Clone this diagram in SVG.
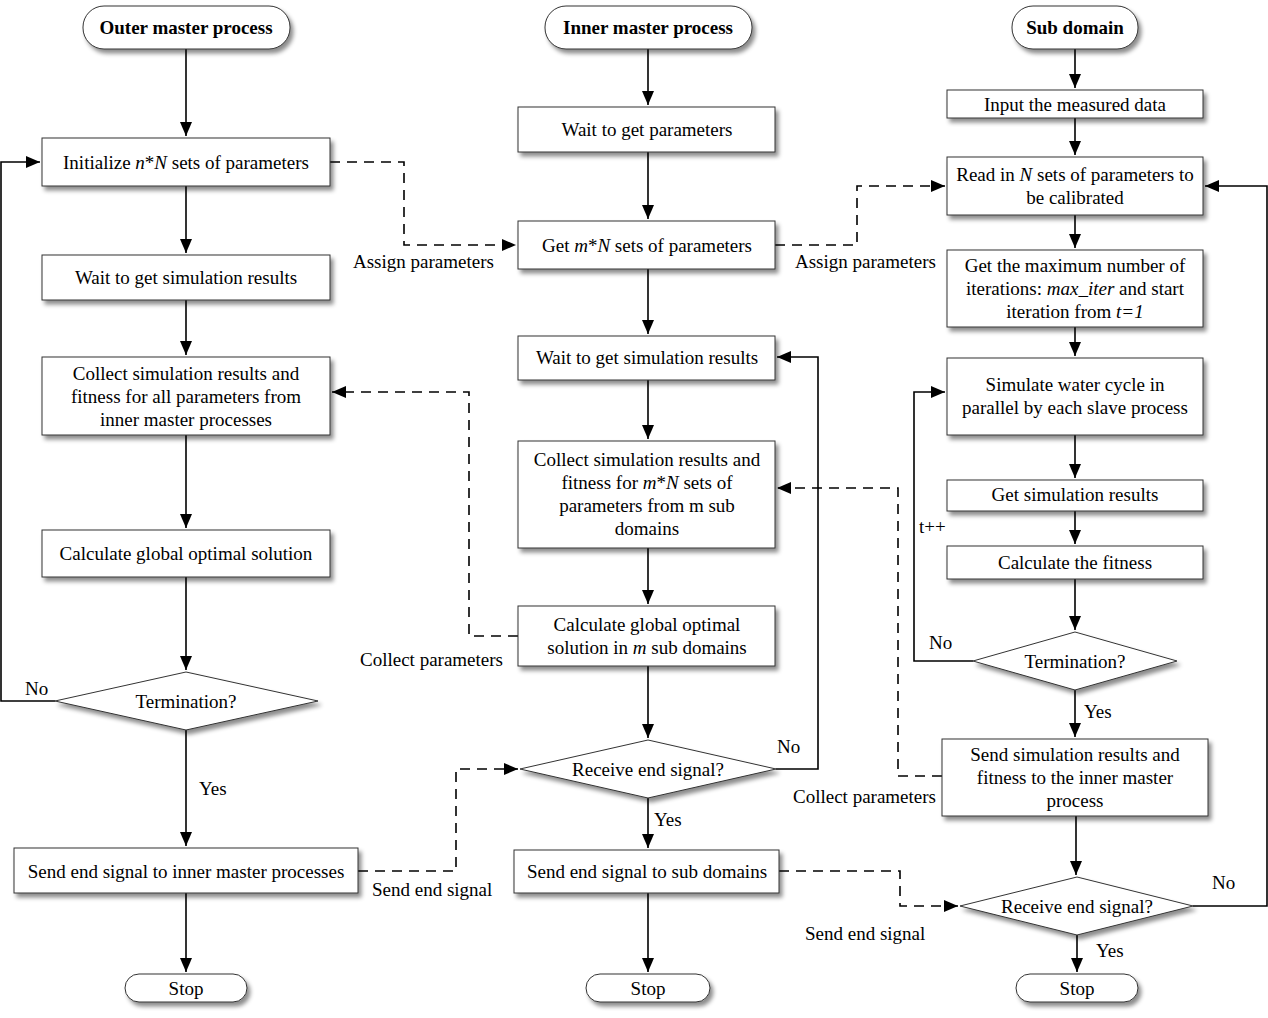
<svg xmlns="http://www.w3.org/2000/svg" width="1268" height="1018" viewBox="0 0 1268 1018">
<defs>
<filter id="sh" x="-10%" y="-20%" width="125%" height="150%">
<feDropShadow dx="3" dy="4" stdDeviation="2.2" flood-color="#000" flood-opacity="0.45"/>
</filter>
<marker id="ah" viewBox="0 0 14 12" refX="14" refY="6" markerWidth="14" markerHeight="12" markerUnits="userSpaceOnUse" orient="auto">
<path d="M0,0 L14,6 L0,12 Z" fill="#000"/>
</marker>
<style>
.n{fill:#fff;stroke:#333;stroke-width:1;filter:url(#sh)}
.t{font-family:"Liberation Serif","Times New Roman",serif;font-size:19px;fill:#000;text-anchor:middle}
.b{font-weight:bold}
.l{font-family:"Liberation Serif","Times New Roman",serif;font-size:19px;fill:#000}
.i{font-style:italic}
.c{fill:none;stroke:#000;stroke-width:1.6}
.d{fill:none;stroke:#000;stroke-width:1.6;stroke-dasharray:10 7}
</style>
</defs>
<rect width="1268" height="1018" fill="#fff"/>

<g id="connectors">
<path class="c" d="M186,49 V136" marker-end="url(#ah)"/>
<path class="c" d="M186,186 V253" marker-end="url(#ah)"/>
<path class="c" d="M186,300 V355" marker-end="url(#ah)"/>
<path class="c" d="M186,435 V528" marker-end="url(#ah)"/>
<path class="c" d="M186,577 V670" marker-end="url(#ah)"/>
<path class="c" d="M186,730 V846" marker-end="url(#ah)"/>
<path class="c" d="M186,893 V972" marker-end="url(#ah)"/>
<path class="c" d="M55,701 H1 V162 H40" marker-end="url(#ah)"/>
<path class="c" d="M648,49 V105" marker-end="url(#ah)"/>
<path class="c" d="M648,152 V219" marker-end="url(#ah)"/>
<path class="c" d="M648,269 V334" marker-end="url(#ah)"/>
<path class="c" d="M648,380 V439" marker-end="url(#ah)"/>
<path class="c" d="M648,548 V604" marker-end="url(#ah)"/>
<path class="c" d="M648,666 V738" marker-end="url(#ah)"/>
<path class="c" d="M648,798 V848" marker-end="url(#ah)"/>
<path class="c" d="M648,893 V972" marker-end="url(#ah)"/>
<path class="c" d="M776,769 H818 V357 H777" marker-end="url(#ah)"/>
<path class="c" d="M1075,49 V88" marker-end="url(#ah)"/>
<path class="c" d="M1075,118 V155" marker-end="url(#ah)"/>
<path class="c" d="M1075,215 V248" marker-end="url(#ah)"/>
<path class="c" d="M1075,327 V356" marker-end="url(#ah)"/>
<path class="c" d="M1075,435 V478" marker-end="url(#ah)"/>
<path class="c" d="M1075,511 V544" marker-end="url(#ah)"/>
<path class="c" d="M1075,579 V630" marker-end="url(#ah)"/>
<path class="c" d="M1075,690 V737" marker-end="url(#ah)"/>
<path class="c" d="M1076,816 V875" marker-end="url(#ah)"/>
<path class="c" d="M1077,935 V972" marker-end="url(#ah)"/>
<path class="c" d="M973,661 H914 V392 H945" marker-end="url(#ah)"/>
<path class="c" d="M1193,906 H1267 V186 H1205" marker-end="url(#ah)"/>
<path class="d" d="M330,162 H404 V245 H516" marker-end="url(#ah)"/>
<path class="d" d="M775,245 H857 V186 H945" marker-end="url(#ah)"/>
<path class="d" d="M518,636 H469 V392 H332" marker-end="url(#ah)"/>
<path class="d" d="M942,776 H898 V488 H777" marker-end="url(#ah)"/>
<path class="d" d="M358,871 H456 V769 H518" marker-end="url(#ah)"/>
<path class="d" d="M779,871 H900 V906 H958" marker-end="url(#ah)"/>
</g>

<g id="labels">
<text class="l" x="353" y="268">Assign parameters</text>
<text class="l" x="795" y="268">Assign parameters</text>
<text class="l" x="360" y="666">Collect parameters</text>
<text class="l" x="793" y="803">Collect parameters</text>
<text class="l" x="372" y="896">Send end signal</text>
<text class="l" x="805" y="940">Send end signal</text>
<text class="l" x="25" y="695">No</text>
<text class="l" x="199" y="795">Yes</text>
<text class="l" x="777" y="753">No</text>
<text class="l" x="654" y="826">Yes</text>
<text class="l" x="929" y="649">No</text>
<text class="l" x="1084" y="718">Yes</text>
<text class="l" x="919" y="533">t++</text>
<text class="l" x="1212" y="889">No</text>
<text class="l" x="1096" y="957">Yes</text>
</g>

<g id="outer_master">
<rect class="n" x="83" y="6" width="207" height="43" rx="21"/>
<text class="t b" x="186" y="34">Outer master process</text>
</g>
<g id="init_params">
<rect class="n" x="42" y="138" width="288" height="48"/>
<text class="t" x="186" y="169">Initialize <tspan class="i">n</tspan>*<tspan class="i">N</tspan> sets of parameters</text>
</g>
<g id="wait_results_outer">
<rect class="n" x="42" y="255" width="288" height="45"/>
<text class="t" x="186" y="284">Wait to get simulation results</text>
</g>
<g id="collect_outer">
<rect class="n" x="42" y="357" width="288" height="78"/>
<text class="t" x="186" y="380">Collect simulation results and</text>
<text class="t" x="186" y="403">fitness for all parameters from</text>
<text class="t" x="186" y="426">inner master processes</text>
</g>
<g id="calc_global_outer">
<rect class="n" x="42" y="530" width="288" height="47"/>
<text class="t" x="186" y="560">Calculate global optimal solution</text>
</g>
<g id="termination_outer">
<polygon class="n" points="186,672 318,701 186,730 55,701"/>
<text class="t" x="186" y="708">Termination?</text>
</g>
<g id="send_end_outer">
<rect class="n" x="14" y="848" width="344" height="45"/>
<text class="t" x="186" y="878">Send end signal to inner master processes</text>
</g>
<g id="stop_outer">
<rect class="n" x="125" y="974" width="122" height="28" rx="14"/>
<text class="t" x="186" y="995">Stop</text>
</g>

<g id="inner_master">
<rect class="n" x="545" y="6" width="207" height="43" rx="21"/>
<text class="t b" x="648" y="34">Inner master process</text>
</g>
<g id="wait_params">
<rect class="n" x="518" y="107" width="257" height="45"/>
<text class="t" x="647" y="136">Wait to get parameters</text>
</g>
<g id="get_mN">
<rect class="n" x="518" y="221" width="257" height="48"/>
<text class="t" x="647" y="252">Get <tspan class="i">m</tspan>*<tspan class="i">N</tspan> sets of parameters</text>
</g>
<g id="wait_results_inner">
<rect class="n" x="518" y="336" width="257" height="44"/>
<text class="t" x="647" y="364">Wait to get simulation results</text>
</g>
<g id="collect_inner">
<rect class="n" x="518" y="441" width="257" height="107"/>
<text class="t" x="647" y="466">Collect simulation results and</text>
<text class="t" x="647" y="489">fitness for <tspan class="i">m</tspan>*<tspan class="i">N</tspan> sets of</text>
<text class="t" x="647" y="512">parameters from m sub</text>
<text class="t" x="647" y="535">domains</text>
</g>
<g id="calc_global_inner">
<rect class="n" x="518" y="606" width="257" height="60"/>
<text class="t" x="647" y="631">Calculate global optimal</text>
<text class="t" x="647" y="654">solution in <tspan class="i">m</tspan> sub domains</text>
</g>
<g id="receive_end_inner">
<polygon class="n" points="648,740 776,769 648,798 520,769"/>
<text class="t" x="648" y="776">Receive end signal?</text>
</g>
<g id="send_end_inner">
<rect class="n" x="514" y="850" width="265" height="43"/>
<text class="t" x="647" y="878">Send end signal to sub domains</text>
</g>
<g id="stop_inner">
<rect class="n" x="586" y="974" width="124" height="28" rx="14"/>
<text class="t" x="648" y="995">Stop</text>
</g>

<g id="sub_domain">
<rect class="n" x="1012" y="6" width="126" height="43" rx="21"/>
<text class="t b" x="1075" y="34">Sub domain</text>
</g>
<g id="input_data">
<rect class="n" x="947" y="90" width="256" height="28"/>
<text class="t" x="1075" y="111">Input the measured data</text>
</g>
<g id="read_params">
<rect class="n" x="947" y="157" width="256" height="58"/>
<text class="t" x="1075" y="181">Read in <tspan class="i">N</tspan> sets of parameters to</text>
<text class="t" x="1075" y="204">be calibrated</text>
</g>
<g id="get_max_iter">
<rect class="n" x="947" y="250" width="256" height="77"/>
<text class="t" x="1075" y="272">Get the maximum number of</text>
<text class="t" x="1075" y="295">iterations: <tspan class="i">max_iter</tspan> and start</text>
<text class="t" x="1075" y="318">iteration from <tspan class="i">t=1</tspan></text>
</g>
<g id="simulate">
<rect class="n" x="947" y="358" width="256" height="77"/>
<text class="t" x="1075" y="391">Simulate water cycle  in</text>
<text class="t" x="1075" y="414">parallel by each slave process</text>
</g>
<g id="get_sim_results">
<rect class="n" x="947" y="480" width="256" height="31"/>
<text class="t" x="1075" y="501">Get simulation results</text>
</g>
<g id="calc_fitness">
<rect class="n" x="947" y="546" width="256" height="33"/>
<text class="t" x="1075" y="569">Calculate the fitness</text>
</g>
<g id="termination_sub">
<polygon class="n" points="1075,632 1177,661 1075,690 973,661"/>
<text class="t" x="1075" y="668">Termination?</text>
</g>
<g id="send_sim_results">
<rect class="n" x="942" y="739" width="266" height="77"/>
<text class="t" x="1075" y="761">Send simulation results and</text>
<text class="t" x="1075" y="784">fitness to the inner master</text>
<text class="t" x="1075" y="807">process</text>
</g>
<g id="receive_end_sub">
<polygon class="n" points="1077,877 1193,906 1077,935 960,906"/>
<text class="t" x="1077" y="913">Receive end signal?</text>
</g>
<g id="stop_sub">
<rect class="n" x="1016" y="974" width="122" height="28" rx="14"/>
<text class="t" x="1077" y="995">Stop</text>
</g>
</svg>
